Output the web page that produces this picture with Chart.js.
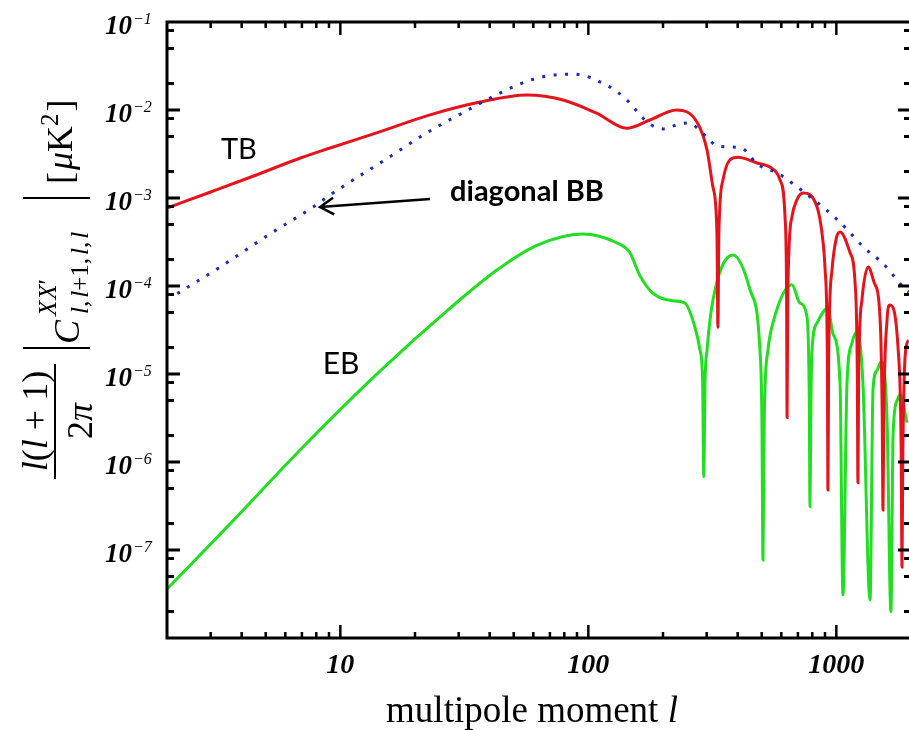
<!DOCTYPE html>
<html>
<head>
<meta charset="utf-8">
<script src="https://cdn.jsdelivr.net/npm/chart.js@4.4.1/dist/chart.umd.min.js"></script>
<style>
  html, body { margin: 0; padding: 0; background: #fff; overflow: hidden; width: 909px; height: 730px; }
  canvas { display: block; }
</style>
</head>
<body>
<canvas id="chart" width="920" height="730"></canvas>
<script>
// multipole moments and |C| values
let tbL = [2, 3, 4.5, 6.9, 9.1, 14, 23, 36.6, 56.6, 79, 108, 143, 177, 227, 274, 301, 318, 330, 333, 336, 349, 372, 401, 479, 540, 593, 621, 630, 633, 637, 662, 693, 734, 836, 875, 900, 920, 925, 931, 960, 1000, 1035, 1135, 1190, 1215, 1222, 1230, 1268, 1343, 1420, 1500, 1530, 1542, 1555, 1600, 1644, 1775, 1825, 1840, 1855, 1928, 1960];
let tbV = [7.7e-4, 1.17e-3, 1.79e-3, 2.85e-3, 3.7e-3, 5.5e-3, 8.8e-3, 1.23e-2, 1.48e-2, 1.30e-2, 9.2e-3, 6.2e-3, 7.7e-3, 1.0e-2, 7.3e-3, 3.5e-3, 1.33e-3, 4.0e-4, 3.4e-5, 4.0e-4, 1.6e-3, 2.7e-3, 2.9e-3, 2.5e-3, 2.25e-3, 1.6e-3, 6.1e-4, 8e-5, 3.2e-6, 8e-5, 6.1e-4, 9.5e-4, 1.14e-3, 7.9e-4, 4.0e-4, 1.6e-4, 1.5e-5, 4.8e-7, 1.5e-5, 1.5e-4, 3.5e-4, 4.1e-4, 2.4e-4, 1.08e-4, 1e-5, 5.8e-7, 1e-5, 6.9e-5, 1.64e-4, 1.1e-4, 4.4e-5, 4e-6, 2.85e-7, 4e-6, 4e-5, 6.1e-5, 1.9e-5, 1.5e-6, 6.4e-8, 1.5e-6, 2.25e-5, 2.4e-5];

let bbL = [2.2, 3.27, 5.2, 7.77, 9.34, 15.1, 22.3, 32.7, 44.9, 62, 86.7, 119, 143, 166, 182, 204, 227, 252, 301, 330, 413, 483, 582, 748, 1035, 1282, 1542, 1858, 1960];
let bbV = [8.2e-5, 1.64e-4, 3.9e-4, 7.9e-4, 1.14e-3, 2.7e-3, 5.5e-3, 1.0e-2, 1.6e-2, 2.3e-2, 2.56e-2, 1.9e-2, 1.3e-2, 8.1e-3, 6.6e-3, 6.1e-3, 6.8e-3, 7.1e-3, 4.9e-3, 3.9e-3, 3.7e-3, 2.4e-3, 1.9e-3, 1.14e-3, 5.3e-4, 2.8e-4, 1.8e-4, 9.8e-5, 8.5e-5];

let ebL = [2, 3.49, 7.07, 14.2, 27.7, 42.8, 62, 95, 130, 147, 161, 182, 219, 245, 269, 282, 289, 292, 295.5, 301, 318, 383, 449, 492, 501, 506, 512, 530, 555, 662, 713, 762, 778, 783, 790, 798, 836, 925, 968, 1035, 1063, 1104, 1156, 1211, 1280, 1367, 1406, 1460, 1514, 1600, 1660, 1694, 1758, 1807, 1928];
let ebV = [3.6e-8, 1.82e-7, 1.48e-6, 1.03e-5, 5.6e-5, 1.52e-4, 2.9e-4, 3.9e-4, 3.1e-4, 2.4e-4, 1.33e-4, 8.3e-5, 6.8e-5, 6.4e-5, 3.4e-5, 1.87e-5, 8e-6, 6.8e-7, 8e-6, 1.87e-5, 6.9e-5, 2.25e-4, 9e-5, 1.87e-5, 3.2e-6, 7.7e-8, 3.2e-6, 1.87e-5, 3.8e-5, 1.03e-4, 6.4e-5, 4.4e-5, 5e-6, 3.1e-7, 5e-6, 1.87e-5, 3.8e-5, 5.6e-5, 2.9e-5, 7.9e-6, 3.1e-8, 7.9e-6, 2.25e-5, 3.0e-5, 7.9e-6, 2.7e-8, 6.8e-6, 1.1e-5, 1.37e-5, 3.2e-6, 2e-8, 2.1e-6, 5e-6, 5.8e-6, 2.8e-6];

let xTickLabels = [10, 100, 1000];
let yTickExps = [-1, -2, -3, -4, -5, -6, -7];

const serif = '"Liberation Serif", "DejaVu Serif", serif';
const sans = 'Lato, "Open Sans", sans-serif';

function pts(xs, ys) {
  return xs.map((x, i) => ({ x: x, y: ys[i] }));
}

// draws a row of text pieces, each with its own font; returns where it ended
function run(ctx, pieces, u, v) {
  pieces.forEach(p => {
    ctx.font = p.f;
    ctx.fillText(p.t, u, v + (p.dy || 0));
    u += ctx.measureText(p.t).width + (p.sp || 0);
  });
  return u;
}
function runWidth(ctx, pieces) {
  let w = 0;
  pieces.forEach(p => { ctx.font = p.f; w += ctx.measureText(p.t).width + (p.sp || 0); });
  return w;
}

const decor = {
  id: "decor",
  afterDraw(chart) {
    const ctx = chart.ctx;
    const a = chart.chartArea;
    const xs = chart.scales.x, ys = chart.scales.y;
    ctx.save();
    ctx.strokeStyle = "#000";
    ctx.fillStyle = "#000";

    // frame
    ctx.lineWidth = 3;
    ctx.strokeRect(a.left, a.top, a.right - a.left, a.bottom - a.top);

    // ticks on all four sides, pointing inwards
    ctx.lineWidth = 2.5;
    for (let e = 0; e <= 3; e++) {
      for (let m = 1; m <= 9; m++) {
        let v = m * Math.pow(10, e);
        if (v <= xs.min || v >= xs.max) continue;
        let x = xs.getPixelForValue(v);
        let len = m == 1 ? 13 : 6;
        ctx.beginPath();
        ctx.moveTo(x, a.bottom); ctx.lineTo(x, a.bottom - len);
        ctx.moveTo(x, a.top); ctx.lineTo(x, a.top + len);
        ctx.stroke();
      }
    }
    ctx.lineWidth = 3;
    for (let e = -8; e <= -1; e++) {
      [1, 2, 5, 8].forEach(m => {
        let v = m * Math.pow(10, e);
        if (v <= ys.min || v >= ys.max) return;
        let y = ys.getPixelForValue(v);
        let len = m == 1 ? 13 : 7;
        ctx.beginPath();
        ctx.moveTo(a.left, y); ctx.lineTo(a.left + len, y);
        ctx.moveTo(a.right, y); ctx.lineTo(a.right - len, y);
        ctx.stroke();
      });
    }

    // tick labels
    ctx.textBaseline = "alphabetic";
    ctx.textAlign = "center";
    ctx.font = "bold italic 28px " + serif;
    xTickLabels.forEach(v => {
      ctx.fillText(String(v), xs.getPixelForValue(v), 673);
    });
    ctx.textAlign = "left";
    yTickExps.forEach(e => {
      let y = ys.getPixelForValue(Math.pow(10, e));
      ctx.font = "bold italic 27px " + serif;
      let w10 = ctx.measureText("10").width;
      ctx.fillText("10", 132 - w10, y + 12);
      ctx.font = "italic 16px " + serif;
      ctx.fillText("\u2212" + (-e), 133, y + 2);
    });

    // x title
    let xt = [
      { t: "multipole moment ", f: "37px " + serif },
      { t: "l", f: "italic 37px " + serif }
    ];
    run(ctx, xt, 532 - runWidth(ctx, xt) / 2, 722);

    // y title, rotated to read upwards
    ctx.save();
    ctx.rotate(-Math.PI / 2);
    const big = "36px " + serif, bigI = "italic 36px " + serif;
    const sm = "25px " + serif, smI = "italic 25px " + serif;
    let num = [
      { t: "l", f: bigI }, { t: "(", f: big }, { t: "l", f: bigI },
      { t: " + 1)", f: big }
    ];
    run(ctx, num, -(421 + runWidth(ctx, num) / 2), 47);
    let den = [{ t: "2", f: big }, { t: "\u03c0", f: bigI }];
    run(ctx, den, -(421 + runWidth(ctx, den) / 2), 92);
    run(ctx, [{ t: "C", f: bigI }], -344, 79);
    run(ctx, [{ t: "X", f: smI, sp: 1 }, { t: "X", f: smI }, { t: "\u2032", f: sm }], -316, 56);
    run(ctx, [
      { t: "l", f: smI }, { t: ",", f: sm, sp: 3 }, { t: "l", f: smI },
      { t: "+1", f: sm }, { t: ",", f: sm, sp: 3 }, { t: "l", f: smI },
      { t: ",", f: sm, sp: 3 }, { t: "l", f: smI }
    ], -314, 88);
    run(ctx, [
      { t: "[", f: big, sp: 2 }, { t: "\u03bc", f: bigI }, { t: "K", f: big },
      { t: "2", f: sm, dy: -14, sp: 2 }, { t: "]", f: big }
    ], -184, 72);
    ctx.restore();

    // fraction bar and absolute value bars
    ctx.lineWidth = 2;
    ctx.beginPath();
    ctx.moveTo(55, 479); ctx.lineTo(55, 364);
    ctx.moveTo(23, 348); ctx.lineTo(90, 348);
    ctx.moveTo(23, 198); ctx.lineTo(90, 198);
    ctx.stroke();

    // curve labels, placed in data coordinates
    ctx.textAlign = "center";
    ctx.textBaseline = "middle";
    ctx.font = "29px " + sans;
    ctx.fillText("TB", xs.getPixelForValue(3.9), ys.getPixelForValue(3.5e-3));
    ctx.font = "30px " + sans;
    ctx.fillText("EB", xs.getPixelForValue(10.07), ys.getPixelForValue(1.3e-5));
    ctx.textAlign = "left";
    ctx.font = "bold 29px " + sans;
    ctx.fillText("diagonal BB", xs.getPixelForValue(27.7), ys.getPixelForValue(1.17e-3));

    // arrow to the BB curve
    let x0 = xs.getPixelForValue(23), y0 = ys.getPixelForValue(9.75e-4);
    let x1 = xs.getPixelForValue(8.28), y1 = ys.getPixelForValue(7.9e-4);
    let ang = Math.atan2(y0 - y1, x0 - x1);
    ctx.lineWidth = 2.5;
    ctx.beginPath();
    ctx.moveTo(x0, y0); ctx.lineTo(x1, y1);
    ctx.moveTo(x1 + 16 * Math.cos(ang - 0.55), y1 + 16 * Math.sin(ang - 0.55));
    ctx.lineTo(x1, y1);
    ctx.lineTo(x1 + 16 * Math.cos(ang + 0.55), y1 + 16 * Math.sin(ang + 0.55));
    ctx.stroke();

    ctx.restore();
  }
};

let chart = new Chart(document.getElementById("chart"), {
  type: "line",
  data: {
    datasets: [
      {
        label: "diagonal BB",
        data: pts(bbL, bbV),
        borderColor: "#1c2cb0",
        borderWidth: 3,
        borderDash: [3, 8.5],
        pointRadius: 0,
        cubicInterpolationMode: "monotone",
        order: 0
      },
      {
        label: "TB",
        data: pts(tbL, tbV),
        borderColor: "#e3141c",
        borderWidth: 3,
        pointRadius: 0,
        cubicInterpolationMode: "monotone",
        order: 1
      },
      {
        label: "EB",
        data: pts(ebL, ebV),
        borderColor: "#22dd22",
        borderWidth: 3,
        pointRadius: 0,
        cubicInterpolationMode: "monotone",
        order: 2
      }
    ]
  },
  options: {
    responsive: false,
    animation: false,
    layout: { padding: { left: 167, top: 22, right: 9, bottom: 92 } },
    plugins: { legend: { display: false }, tooltip: { enabled: false } },
    scales: {
      x: { type: "logarithmic", min: 2, max: 2000, display: false },
      y: { type: "logarithmic", min: 1e-8, max: 1e-1, display: false }
    }
  },
  plugins: [decor]
});
</script>
</body>
</html>
